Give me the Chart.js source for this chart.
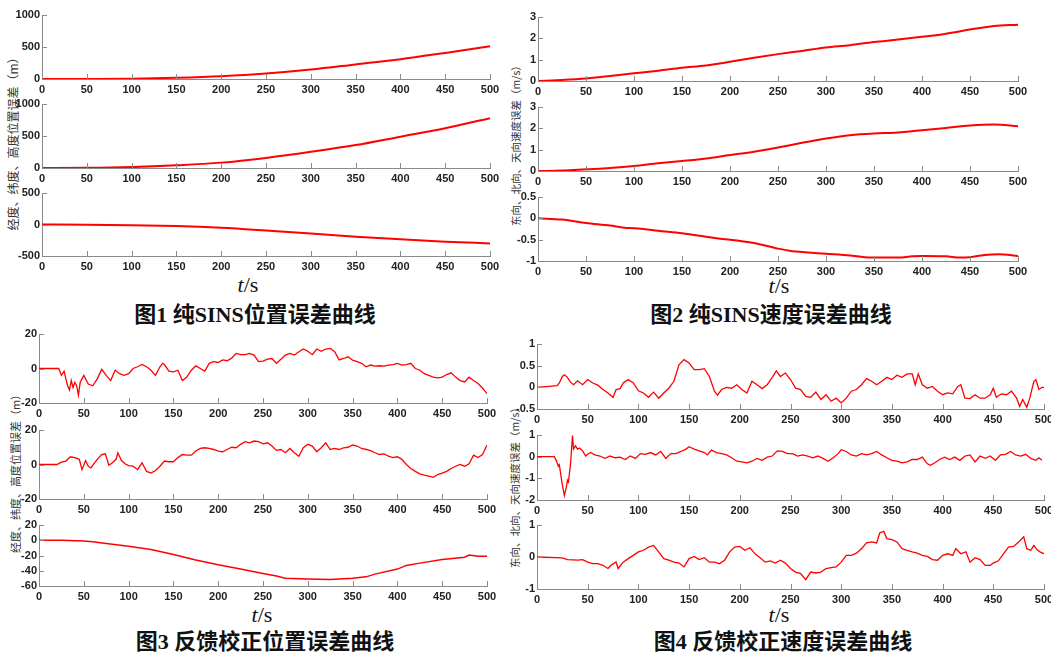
<!DOCTYPE html>
<html>
<head>
<meta charset="utf-8">
<script src="https://cdn.jsdelivr.net/npm/chart.js@4/dist/chart.umd.min.js"></script>
<style>
  body { margin: 0; background: #fff; width: 1051px; height: 659px; position: relative; overflow: hidden; }
  canvas { position: absolute; }
  .ttl { position: absolute; font: bold 22px 'Liberation Serif', 'Noto Sans CJK SC', serif; white-space: nowrap; transform: translate(-50%, -50%); line-height: 1; color: #111; }
  .ts { position: absolute; font: 22px 'Liberation Serif', serif; transform: translate(-50%, -50%); line-height: 1; color: #111; }
  .yl { position: absolute; font-family: 'Noto Sans CJK SC', sans-serif; white-space: nowrap; transform: translate(-50%, -50%) rotate(-90deg); line-height: 1; color: #333; }
</style>
</head>
<body>

<div class="yl" style="left:13px; top:141px; font-size:12px;">经度、纬度、高度位置误差（m）</div>
<div class="yl" style="left:516px; top:143px; font-size:10.5px;">东向、北向、天向速度误差（m/s）</div>
<div class="yl" style="left:15px; top:471px; font-size:11px;">经度、纬度、高度位置误差（m）</div>
<div class="yl" style="left:515px; top:485px; font-size:10.5px;">东向、北向、天向速度误差（m/s）</div>

<div class="ts" style="left:248px; top:285px;"><i>t</i>/s</div>
<div class="ts" style="left:779px; top:286px;"><i>t</i>/s</div>
<div class="ts" style="left:262px; top:615px;"><i>t</i>/s</div>
<div class="ts" style="left:779px; top:615px;"><i>t</i>/s</div>

<div class="ttl" style="left:255px; top:315px;">图1 纯SINS位置误差曲线</div>
<div class="ttl" style="left:771px; top:315px;">图2 纯SINS速度误差曲线</div>
<div class="ttl" style="left:265px; top:642px;">图3 反馈校正位置误差曲线</div>
<div class="ttl" style="left:783px; top:642px;">图4 反馈校正速度误差曲线</div>

<script>
// time axis ticks (s)
const xTicks = [0, 50, 100, 150, 200, 250, 300, 350, 400, 450, 500];

// Fig 1: pure SINS position error (m)
const p1T = [0, 50, 100, 150, 200, 250, 300, 350, 400, 450, 500];
const p1Lon = [0, 1, 5, 20, 44, 85, 147, 228, 310, 408, 510];
const p1Lat = [0, 2, 14, 42, 84, 158, 253, 358, 489, 621, 779];
const p1Alt = [0, -2, -10, -25, -53, -95, -141, -194, -236, -272, -300];

// Fig 2: pure SINS velocity error (m/s)
const p2T = [0, 25, 50, 75, 100, 125, 150, 175, 200, 225, 250, 275, 300, 325, 350, 375, 400, 425, 450, 475, 500];
const p2E = [0, 0.05, 0.12, 0.23, 0.36, 0.48, 0.62, 0.73, 0.9, 1.09, 1.26, 1.41, 1.57, 1.68, 1.83, 1.94, 2.07, 2.22, 2.41, 2.58, 2.64];
const p2N = [0, 0.02, 0.08, 0.14, 0.23, 0.36, 0.47, 0.59, 0.75, 0.9, 1.1, 1.32, 1.52, 1.68, 1.76, 1.8, 1.91, 2.02, 2.13, 2.18, 2.1];
const p2UT = [0, 25, 50, 75, 90, 100, 110, 125, 150, 175, 190, 200, 225, 250, 265, 275, 300, 325, 340, 350, 375, 390, 400, 425, 440, 450, 465, 480, 500];
const p2U = [0, -0.03, -0.11, -0.17, -0.22, -0.23, -0.25, -0.29, -0.35, -0.43, -0.48, -0.5, -0.58, -0.71, -0.77, -0.79, -0.83, -0.87, -0.91, -0.92, -0.92, -0.89, -0.88, -0.89, -0.92, -0.91, -0.86, -0.84, -0.88];

// Fig 3: feedback-corrected position error (m)
const p3LonT = [0, 20, 22, 25, 28, 30, 32, 34, 36, 38, 40, 42, 44, 46, 48, 50,
  55, 60, 65, 70, 75, 80, 85, 90, 95, 100, 105, 110, 115, 120, 125, 130, 135, 138,
  140, 145, 150, 155, 160, 165, 170, 175, 180, 185,
  190, 195, 200, 205, 210, 215, 220, 225, 230, 235,
  240, 245, 250, 255, 260, 265, 270, 275, 280, 285,
  290, 295, 300, 305, 310, 315, 320, 325, 330, 335,
  340, 345, 350, 355, 360, 365, 370, 375, 380, 385,
  390, 395, 400, 405, 410, 415, 420, 425, 430, 435,
  440, 445, 450, 455, 460, 465, 470, 475, 480, 485,
  490, 495, 500];
const p3Lon = [0, 0, 0, -4, -1.5, -6, -10, -12.5, -7, -11, -8, -10, -15.5, -8, -6, -4,
  -9, -10, -6, -0.5, -4, -7, -1, -3, -4, -3, 0, 1, 2.3, 1, -1, -4, 1, 3,
  2.3, -1.5, -2, -1, -7, -5, -1, 1.5, 0, -1.5,
  3, 4, 3.5, 5, 4.5, 6, 8.7, 8, 8, 8.7,
  7.8, 4, 4.3, 5.4, 5.8, 3, 5.4, 7.8, 8.7, 7.8,
  9.7, 11.3, 10, 8, 11.3, 10, 11.3, 11.7, 9.7, 5,
  5.8, 6.8, 4.8, 4, 3, 1, 2, 1.4, 1.6, 1.4,
  2, 2.3, 3, 2, 2.3, 3, 0, -1, -3, -4,
  -5, -5.4, -5, -3.5, -2.5, -5, -7, -7.8, -5, -7,
  -8.7, -11.3, -14.6];

const p3LatT = [0, 20, 25, 30, 35, 40, 45, 48, 52, 55, 58, 62, 65, 70, 74, 78, 82, 86, 88, 92, 96,
  100, 105, 110, 115, 120, 125, 130, 135, 140, 145,
  150, 155, 160, 165, 170, 175, 180, 185, 190, 195,
  200, 205, 210, 215, 220, 225, 230, 235, 240, 245,
  250, 255, 260, 265, 270, 275, 280, 285, 290, 295,
  300, 305, 310, 315, 320, 325, 330, 335, 340, 345,
  350, 355, 360, 365, 370, 375, 380, 385, 390, 395,
  400, 405, 410, 415, 420, 425, 430, 435, 440, 445,
  450, 455, 460, 465, 470, 475, 480, 485, 490, 495,
  500];
const p3Lat = [0, 0, 1.4, 2, 4.5, 4, 3, -3, 2.3, -1, -2, 1, 3, 5.8, 6.2, -0.4, 1, 3, 6.8, 2.3, 0.4,
  -0.6, -1, -3, 1, -4, -5, -3.5, -1, 2, 1.6,
  1.6, 4, 5.8, 5.4, 5.4, 7.8, 9.3, 9.7, 9.3, 8.7,
  7.8, 7.4, 8.7, 10, 9.7, 11.7, 13.2, 12.6, 13.6, 13.2,
  12, 12.6, 10.7, 8.2, 8.7, 6.8, 9.3, 6.8, 4.8, 9.7,
  11.7, 10.7, 7.4, 9.7, 12.6, 8.7, 9.3, 8.7, 9.7, 10,
  11.3, 10.7, 9.3, 8.7, 8, 6.8, 5.8, 6.2, 4.8, 4,
  4.5, 3, 0, -2.3, -4, -5.4, -6.2, -6.8, -7.4, -5.8,
  -5, -4, -2.3, -1, 0, -1, 0.4, 5.4, 4, 5.8,
  11.3];

const p3AltT = [0, 25, 50, 60, 75, 100, 125, 150, 175, 200, 225, 250, 265, 275, 300, 325, 350, 365, 375, 400, 410, 425, 450, 475, 480, 490, 500];
const p3Alt = [0, 0, -1, -2, -4.4, -8, -12, -18.7, -25.8, -32, -37.8, -43.5, -47, -49.8, -50.7, -51.5, -49.8, -48, -44.4, -37.8, -33, -30, -25.3, -22.2, -19.5, -21, -21];

// Fig 4: feedback-corrected velocity error (m/s)
const p4ET = [0, 20, 22, 25, 27, 30, 33, 36, 40, 45,
  50, 55, 60, 65, 70, 75, 78, 82, 85, 90,
  95, 100, 105, 110, 115, 120, 125, 130, 135, 140,
  145, 150, 155, 160, 165, 170, 175, 178, 182, 187,
  192, 197, 202, 207, 212, 217, 222, 227, 232, 236,
  240, 245, 250, 255, 260, 265, 270, 275, 280, 285,
  290, 295, 300, 305, 310, 315, 320, 325, 330, 335,
  340, 345, 350, 355, 360, 365, 370, 373, 376, 380,
  385, 390, 395, 400, 405, 410, 415, 418, 422, 427,
  432, 437, 442, 447, 450, 453, 458, 463, 468, 473,
  476, 479, 483, 486, 490, 492, 495, 498, 500];
const p4E = [0, 0.04, 0.1, 0.25, 0.29, 0.23, 0.12, 0.06, 0.15, 0.06,
  0.18, 0.1, 0.05, -0.05, -0.13, -0.23, -0.05, -0.03, 0.1, 0.18,
  0.1, -0.08, -0.13, -0.23, -0.11, -0.25, -0.13, -0.02, 0.14, 0.52,
  0.64, 0.56, 0.41, 0.41, 0.43, 0.25, -0.09, -0.18, -0.05, 0,
  -0.02, 0.06, -0.05, -0.13, 0.14, 0.06, -0.03, 0.06, 0.23, 0.38,
  0.25, 0.33, 0.18, -0.02, -0.05, -0.21, -0.23, -0.11, -0.28, -0.17,
  -0.32, -0.25, -0.36, -0.25, -0.09, -0.05, 0.06, 0.2, 0.14, 0.06,
  0.14, 0.23, 0.18, 0.28, 0.23, 0.31, 0.31, 0.06, 0.31, 0.06,
  -0.02, 0.02, -0.09, -0.17, -0.13, -0.15, 0.02, 0.06, -0.25, -0.26,
  -0.17, -0.25, -0.25, -0.17, -0.02, -0.23, -0.15, -0.17, -0.09, -0.25,
  -0.44, -0.28, -0.46, -0.25, 0.14, 0.18, -0.05, 0, 0];

const p4NT = [0, 17, 19, 21, 22, 25, 27, 29, 30, 31,
  33, 35, 36, 38, 40, 42, 45, 48, 50, 53,
  57, 62, 67, 72, 77, 82, 87, 92, 97, 102,
  107, 112, 117, 122, 127, 132, 137, 142, 147, 150,
  155, 160, 165, 168, 172, 177, 182, 187, 192, 197,
  202, 207, 212, 217, 222, 227, 232, 237, 242, 247,
  252, 257, 262, 267, 272, 277, 282, 287, 292, 297,
  300, 305, 310, 315, 320, 325, 330, 335, 340, 345,
  350, 355, 360, 365, 370, 375, 380, 385, 388, 392,
  397, 402, 407, 412, 417, 422, 427, 432, 437, 442,
  447, 452, 457, 462, 467, 472, 477, 482, 487, 492,
  495, 498];
const p4N = [0, 0, -0.17, -0.44, -0.37, -1.3, -1.8, -1.4, -1.08, -1.16,
  -0.37, 0.98, 0.35, 0.5, 0.35, 0.4, 0.27, 0.03, 0.11, 0.19,
  0.08, 0.03, -0.08, 0.03, -0.05, -0.02, -0.13, 0.03, -0.08, 0.14,
  0.11, 0.19, 0.08, 0.24, -0.08, 0.14, 0.14, 0.24, 0.35, 0.46,
  0.35, 0.27, 0.19, 0.08, 0.3, 0.19, 0.14, 0.08, -0.05, -0.21,
  -0.24, -0.29, -0.21, -0.08, -0.17, -0.02, 0.03, 0.27, 0.24, 0.14,
  0.14, 0.03, 0.08, 0.03, -0.05, 0.03, -0.08, -0.21, -0.05, 0.14,
  0.32, 0.24, 0.08, 0.03, 0.14, 0.08, 0.14, 0.24, 0.08, -0.05,
  -0.17, -0.21, -0.29, -0.24, -0.13, -0.13, -0.02, -0.33, -0.4, -0.29,
  -0.13, -0.02, -0.13, -0.02, -0.17, 0.03, 0.08, -0.24, 0.03, -0.08,
  0.03, -0.17, 0.08, 0.11, 0.24, 0.08, 0.03, 0.11, -0.08, -0.17,
  -0.05, -0.17];

const p4UT = [0, 25, 30, 40, 45, 50, 55, 60, 65, 70,
  73, 78, 80, 85, 90, 95, 100, 105, 110, 115,
  120, 125, 130, 135, 140, 145, 150, 155, 160, 165,
  170, 175, 180, 185, 190, 195, 200, 205, 210, 215,
  220, 225, 230, 235, 240, 245, 250, 255, 260, 265,
  270, 275, 280, 285, 290, 295, 300, 305, 310, 315,
  320, 325, 330, 335, 338, 342, 345, 350, 355, 360,
  365, 370, 375, 380, 385, 390, 395, 400, 405, 410,
  413, 418, 423, 427, 432, 437, 442, 447, 450, 455,
  460, 465, 470, 475, 480, 483, 487, 490, 493, 496,
  500];
const p4U = [0, -0.03, -0.08, -0.1, -0.08, -0.16, -0.21, -0.21, -0.26, -0.36,
  -0.26, -0.16, -0.36, -0.16, -0.05, 0.05, 0.16, 0.21, 0.31, 0.36,
  0.16, -0.05, -0.1, -0.16, -0.19, -0.31, -0.05, 0.02, -0.08, -0.02,
  -0.16, -0.16, -0.21, -0.1, 0.16, 0.31, 0.33, 0.21, 0.29, 0.1,
  -0.02, -0.16, -0.12, -0.19, -0.1, -0.19, -0.36, -0.47, -0.52, -0.71,
  -0.47, -0.5, -0.47, -0.36, -0.33, -0.31, -0.16, 0.05, 0.05, 0.12,
  0.26, 0.44, 0.47, 0.44, 0.75, 0.8, 0.57, 0.54, 0.47, 0.26,
  0.21, 0.16, 0.12, 0.05, 0.02, -0.08, -0.1, 0.05, 0.1, 0.05,
  0.26, 0.1, 0.16, -0.16, -0.02, -0.08, -0.26, -0.26, -0.19, -0.12,
  0.1, 0.31, 0.33, 0.47, 0.63, 0.26, 0.21, 0.36, 0.23, 0.16,
  0.1];

// draws MATLAB-style inward tick marks
const inwardTicks = {
  id: 'inwardTicks',
  afterDraw(chart) {
    const { ctx, chartArea: a } = chart;
    const x = chart.scales.x, y = chart.scales.y;
    ctx.save();
    ctx.strokeStyle = '#8a8a8a';
    ctx.lineWidth = 1;
    ctx.beginPath();
    x.ticks.forEach(tk => {
      const px = Math.round(x.getPixelForValue(tk.value)) + 0.5;
      ctx.moveTo(px, a.bottom);
      ctx.lineTo(px, a.bottom - 5);
    });
    y.ticks.forEach(tk => {
      const py = Math.round(y.getPixelForValue(tk.value)) + 0.5;
      ctx.moveTo(a.left, py);
      ctx.lineTo(a.left + 5, py);
    });
    ctx.stroke();
    ctx.restore();
  }
};

const tickFont = { family: "'Liberation Sans Narrow', 'Arial Narrow', 'Liberation Sans', sans-serif", size: 11, weight: 'bold' };

function addPlot(box, t, v, yMin, yMax, yStep, lineW, smooth) {
  const cv = document.createElement('canvas');
  const w = box.r - box.l + 60, h = box.b - box.t + 10 + 18;
  cv.width = w; cv.height = h;
  cv.style.width = w + 'px'; cv.style.height = h + 'px';
  cv.style.left = (box.l - 40) + 'px';
  cv.style.top = (box.t - 10) + 'px';
  document.body.appendChild(cv);

  new Chart(cv, {
    type: 'line',
    data: {
      datasets: [{
        data: t.map((tt, i) => ({ x: tt, y: v[i] })),
        borderColor: '#ff0000',
        borderWidth: lineW,
        pointRadius: 0,
        cubicInterpolationMode: smooth ? 'monotone' : 'default',
        tension: 0,
        fill: false
      }]
    },
    options: {
      responsive: false,
      animation: false,
      devicePixelRatio: 1,
      layout: { padding: { top: 10, right: 20, left: 0, bottom: 0 } },
      plugins: { legend: { display: false }, tooltip: { enabled: false } },
      scales: {
        x: {
          type: 'linear', min: 0, max: 500,
          afterFit: s => { s.height = 18; },
          afterBuildTicks: s => { s.ticks = xTicks.map(val => ({ value: val })); },
          grid: { display: false, drawTicks: false },
          border: { color: '#8a8a8a' },
          ticks: { padding: 4, maxRotation: 0, autoSkip: false, color: '#222', font: tickFont, callback: val => String(val) }
        },
        y: {
          type: 'linear', min: yMin, max: yMax,
          afterFit: s => { s.width = 40; },
          grid: { display: false, drawTicks: false },
          border: { color: '#8a8a8a' },
          ticks: { stepSize: yStep, padding: 2, autoSkip: false, color: '#222', font: tickFont, callback: val => String(val) }
        }
      }
    },
    plugins: [inwardTicks]
  });
}

// Fig 1
addPlot({ l: 42, r: 490, t: 15, b: 79 }, p1T, p1Lon, 0, 1000, 500, 2, true);
addPlot({ l: 42, r: 490, t: 104, b: 168 }, p1T, p1Lat, 0, 1000, 500, 2, true);
addPlot({ l: 42, r: 490, t: 193, b: 256 }, p1T, p1Alt, -500, 500, 500, 2, true);
// Fig 2
addPlot({ l: 538, r: 1018, t: 17, b: 81 }, p2T, p2E, 0, 3, 1, 2, true);
addPlot({ l: 538, r: 1018, t: 107, b: 171 }, p2T, p2N, 0, 3, 1, 2, true);
addPlot({ l: 538, r: 1018, t: 197, b: 261 }, p2UT, p2U, -1, 0.5, 0.5, 2, true);
// Fig 3
addPlot({ l: 39, r: 487, t: 334, b: 403 }, p3LonT, p3Lon, -20, 20, 20, 1.3, false);
addPlot({ l: 39, r: 487, t: 430, b: 499 }, p3LatT, p3Lat, -20, 20, 20, 1.3, false);
addPlot({ l: 39, r: 487, t: 525, b: 586 }, p3AltT, p3Alt, -60, 20, 20, 1.5, false);
// Fig 4
addPlot({ l: 537, r: 1044, t: 344, b: 409 }, p4ET, p4E, -0.5, 1, 0.5, 1.3, false);
addPlot({ l: 537, r: 1044, t: 435, b: 500 }, p4NT, p4N, -2, 1, 1, 1.3, false);
addPlot({ l: 537, r: 1044, t: 525, b: 589 }, p4UT, p4U, -1, 1, 1, 1.3, false);
</script>
</body>
</html>
